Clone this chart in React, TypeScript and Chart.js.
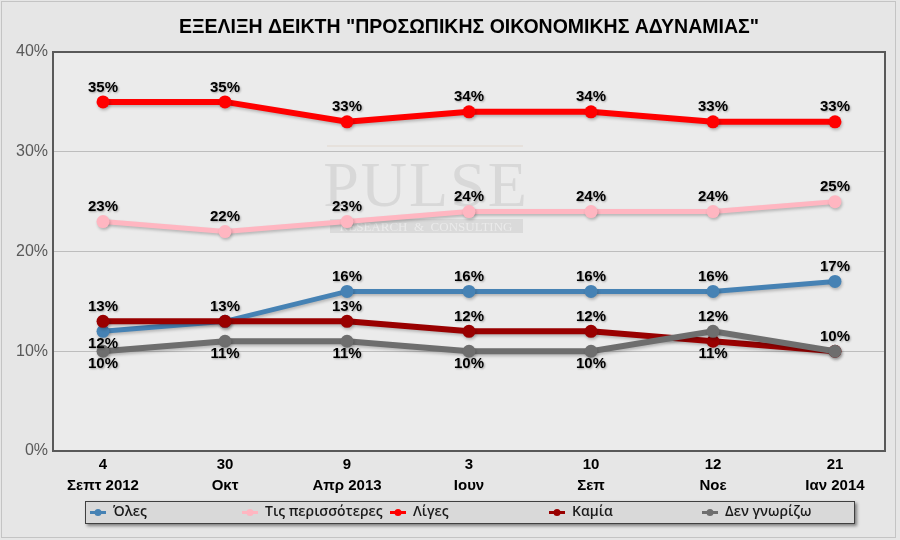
import { useEffect, useRef } from 'react';
import { Chart, registerables } from 'chart.js';
Chart.register(...registerables);

const dayLabels = ['4', '30', '9', '3', '10', '12', '21'];
const monthLabels = ['Σεπτ 2012', 'Οκτ', 'Απρ 2013', 'Ιουν', 'Σεπ', 'Νοε', 'Ιαν 2014'];
const seriesNames = ['Όλες', 'Τις περισσότερες', 'Λίγες', 'Καμία', 'Δεν γνωρίζω'];
const oles = [12, 13, 16, 16, 16, 16, 17];
const perissoteres = [23, 22, 23, 24, 24, 24, 25];
const liges = [35, 35, 33, 34, 34, 33, 33];
const kamia = [13, 13, 13, 12, 12, 11, 10];
const denGnorizo = [10, 11, 11, 10, 10, 12, 10];
const yTickValues = [0, 10, 20, 30, 40];
const titleText = 'ΕΞΕΛΙΞΗ ΔΕΙΚΤΗ "ΠΡΟΣΩΠΙΚΗΣ ΟΙΚΟΝΟΜΙΚΗΣ ΑΔΥΝΑΜΙΑΣ"';

// label placement per point: a = above, b = below, '' = none
const labelSides = [
  ['b', '', 'a', 'a', 'a', 'a', 'a'],
  ['a', 'a', 'a', 'a', 'a', 'a', 'a'],
  ['a', 'a', 'a', 'a', 'a', 'a', 'a'],
  ['a', 'a', 'a', 'a', 'a', 'b', 'a'],
  ['b', 'b', 'b', 'b', 'b', 'a', ''],
];

const colors = ['#4682B4', '#FFB6C1', '#FF0000', '#990000', '#6E6E6E'];
const lineWidths = [5, 5, 6, 6, 6];
const legendX = [98, 250, 398, 557, 710];

export default function App() {
  const ref = useRef<HTMLCanvasElement>(null);
  useEffect(() => {
    document.body.style.margin = '0';
    const canvas = ref.current!;
    const values = [oles, perissoteres, liges, kamia, denGnorizo];

    const customPlugin = {
      id: 'custom',
      beforeDraw(chart: any) {
        const { ctx, chartArea: a } = chart;
        ctx.save();
        ctx.fillStyle = '#e6e6e6';
        ctx.fillRect(0, 0, chart.width, chart.height);
        ctx.strokeStyle = '#c4c4c4';
        ctx.lineWidth = 1;
        ctx.strokeRect(1.5, 1.5, chart.width - 6, chart.height - 4);
        ctx.fillStyle = '#ebebeb';
        ctx.fillRect(a.left, a.top, a.right - a.left, a.bottom - a.top);
        ctx.restore();
      },
      beforeDatasetsDraw(chart: any) {
        const { ctx, chartArea: a } = chart;
        ctx.save();
        // watermark
        ctx.strokeStyle = 'rgba(200,160,120,0.25)';
        ctx.lineWidth = 1;
        ctx.beginPath();
        ctx.moveTo(327, 146);
        ctx.lineTo(523, 146);
        ctx.stroke();
        ctx.fillStyle = 'rgba(150,150,150,0.22)';
        ctx.font = '64px "Liberation Serif"';
        ctx.textAlign = 'center';
        ctx.textBaseline = 'alphabetic';
        (ctx as any).letterSpacing = '2px';
        ctx.fillText('PULSE', 426, 206);
        (ctx as any).letterSpacing = '0px';
        ctx.fillStyle = 'rgba(150,150,150,0.2)';
        ctx.fillRect(330, 219, 193, 14);
        ctx.fillStyle = 'rgba(255,255,255,0.45)';
        ctx.font = '13px "Liberation Serif"';
        ctx.fillText('RESEARCH  &  CONSULTING', 426, 231);
        // plot border
        ctx.strokeStyle = '#595959';
        ctx.lineWidth = 2;
        ctx.strokeRect(a.left, a.top, a.right - a.left, a.bottom - a.top);
        ctx.restore();
      },
      beforeDatasetDraw(chart: any) {
        const ctx = chart.ctx;
        ctx.save();
        ctx.shadowColor = 'rgba(0,0,0,0.22)';
        ctx.shadowBlur = 3;
        ctx.shadowOffsetX = 1;
        ctx.shadowOffsetY = 2;
      },
      afterDatasetDraw(chart: any) {
        chart.ctx.restore();
      },
      afterDatasetsDraw(chart: any) {
        const ctx = chart.ctx;
        ctx.save();
        ctx.font = 'bold 15px "Liberation Sans"';
        ctx.textAlign = 'center';
        ctx.textBaseline = 'middle';
        ctx.fillStyle = '#000';
        ctx.shadowColor = 'rgba(0,0,0,0.3)';
        ctx.shadowBlur = 2;
        ctx.shadowOffsetX = 1;
        ctx.shadowOffsetY = 1;
        chart.data.datasets.forEach((ds: any, d: number) => {
          const meta = chart.getDatasetMeta(d);
          meta.data.forEach((pt: any, i: number) => {
            const side = labelSides[d][i];
            if (!side) return;
            const y = pt.y + (side === 'a' ? -14.5 : 12.5);
            ctx.fillText(ds.data[i].y + '%', pt.x, y);
          });
        });
        ctx.restore();

        // legend
        ctx.save();
        ctx.shadowColor = 'rgba(0,0,0,0.45)';
        ctx.shadowBlur = 3;
        ctx.shadowOffsetX = 2;
        ctx.shadowOffsetY = 2;
        ctx.fillStyle = '#d9d9d9';
        ctx.fillRect(85, 501, 770, 23);
        ctx.shadowColor = 'transparent';
        ctx.strokeStyle = '#404040';
        ctx.lineWidth = 1;
        ctx.strokeRect(85.5, 501.5, 769, 22);
        const ly = 512.5;
        chart.data.datasets.forEach((ds: any, d: number) => {
          const cx = legendX[d];
          ctx.strokeStyle = ds.borderColor;
          ctx.fillStyle = ds.borderColor;
          ctx.lineWidth = 3;
          ctx.beginPath();
          ctx.moveTo(cx - 8, ly);
          ctx.lineTo(cx + 8, ly);
          ctx.stroke();
          ctx.beginPath();
          ctx.arc(cx, ly, 3.5, 0, Math.PI * 2);
          ctx.fill();
          ctx.fillStyle = '#1a1a1a';
          ctx.font = '600 14px "Open Sans"';
          ctx.textAlign = 'left';
          ctx.textBaseline = 'middle';
          ctx.fillText(ds.label, cx + 15, ly);
        });
        ctx.restore();
      },
    };

    const chart = new Chart(canvas, {
      type: 'line',
      data: {
        datasets: values.map((vals, d) => ({
          label: seriesNames[d],
          data: vals.map((v, i) => ({ x: i, y: v })),
          borderColor: colors[d],
          backgroundColor: colors[d],
          pointBackgroundColor: colors[d],
          pointBorderColor: colors[d],
          borderWidth: lineWidths[d],
          pointBorderWidth: 0,
          pointRadius: 6.5,
          pointHoverRadius: 6.5,
          tension: 0,
          fill: false,
          order: 5 - d,
        })),
      },
      options: {
        animation: false,
        responsive: false,
        events: [],
        layout: { padding: { left: 0, right: 15, top: 0, bottom: 0 } },
        plugins: {
          legend: { display: false },
          tooltip: { enabled: false },
          title: {
            display: true,
            text: titleText,
            fullSize: false,
            color: '#000',
            font: { family: '"Liberation Sans"', size: 19.5, weight: 'bold', lineHeight: 1.2 },
            padding: { top: 16, bottom: 12.6 },
          },
        },
        scales: {
          x: {
            type: 'linear',
            min: -0.41,
            max: 6.41,
            grid: { display: false, drawTicks: false },
            border: { display: false },
            afterBuildTicks: (s: any) => {
              s.ticks = dayLabels.map((_, i) => ({ value: i }));
            },
            afterFit: (s: any) => {
              s.height = 89;
            },
            ticks: {
              autoSkip: false,
              maxRotation: 0,
              padding: 4,
              color: '#000',
              font: { family: '"Liberation Sans"', size: 15, weight: 'bold', lineHeight: 1.35 },
              callback: (v: any) => [dayLabels[v], monthLabels[v]],
            },
          },
          y: {
            min: 0,
            max: 40,
            afterBuildTicks: (s: any) => {
              s.ticks = yTickValues.map((v) => ({ value: v }));
            },
            afterFit: (s: any) => {
              s.width = 53;
            },
            grid: { color: '#bdbdbd', lineWidth: 1, drawTicks: false },
            border: { display: false },
            ticks: {
              padding: 5,
              color: '#595959',
              font: { family: '"Liberation Sans"', size: 16 },
              callback: (v: any) => v + '%',
            },
          },
        },
      },
      plugins: [customPlugin],
    } as any);
    return () => chart.destroy();
  }, []);
  return <canvas ref={ref} width={900} height={540} style={{ display: 'block' }} />;
}
